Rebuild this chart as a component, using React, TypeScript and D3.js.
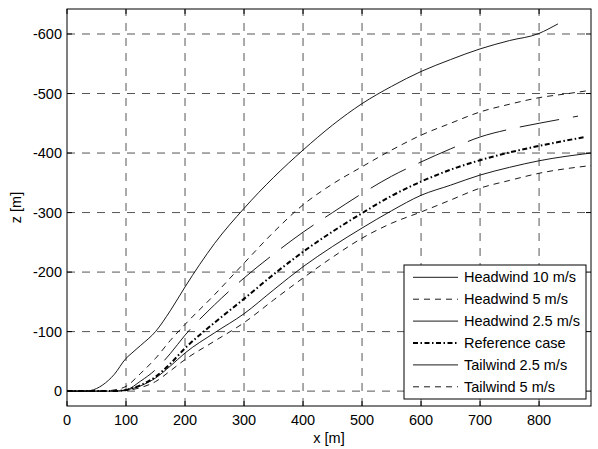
import React from 'react';
import * as d3 from 'd3';

const W = 598;
const H = 449;

const xTicks = [0, 100, 200, 300, 400, 500, 600, 700, 800];
const zTicks = [0, -100, -200, -300, -400, -500, -600];

const hw10X = [0, 30, 40, 60, 80, 100, 110, 125, 150, 175, 200, 225, 250, 300, 350, 400, 450, 500, 550, 600, 650, 700, 750, 800, 815, 832];
const hw10Z = [0, 0, -1, -10, -28, -55, -64, -77, -100, -135, -175, -213, -248, -307, -359, -405, -447, -483, -512, -537, -557, -575, -589, -601, -608, -617];

const hw5X = [0, 60, 80, 100, 125, 150, 175, 200, 250, 300, 350, 400, 450, 500, 550, 600, 650, 700, 750, 800, 850, 884];
const hw5Z = [0, 0, -2, -8, -30, -55, -85, -112, -162, -215, -267, -313, -348, -377, -405, -430, -450, -469, -482, -493, -500, -505];

const hw25X = [0, 80, 100, 125, 150, 175, 200, 250, 300, 350, 400, 450, 500, 550, 600, 650, 700, 750, 800, 866];
const hw25Z = [0, 0, -2, -17, -36, -63, -94, -145, -190, -230, -267, -300, -332, -361, -385, -407, -427, -440, -450, -462];

const refX = [0, 80, 100, 125, 150, 175, 200, 250, 300, 350, 400, 450, 500, 550, 600, 650, 700, 750, 800, 878];
const refZ = [0, 0, -2, -10, -24, -46, -72, -115, -155, -196, -234, -268, -299, -328, -352, -372, -388, -401, -412, -427];

const tw25X = [0, 80, 100, 125, 150, 175, 200, 250, 300, 350, 400, 450, 500, 550, 600, 650, 700, 750, 800, 888];
const tw25Z = [0, 0, -2, -9, -22, -42, -64, -98, -130, -170, -209, -243, -274, -303, -329, -346, -363, -376, -387, -400];

const tw5X = [0, 80, 100, 125, 150, 175, 200, 250, 300, 350, 400, 450, 500, 550, 600, 650, 700, 750, 800, 888];
const tw5Z = [0, 0, -1, -6, -16, -34, -53, -84, -115, -153, -190, -225, -257, -282, -301, -321, -341, -354, -366, -379];

const seriesNames = ['Headwind 10 m/s', 'Headwind 5 m/s', 'Headwind 2.5 m/s', 'Reference case', 'Tailwind 2.5 m/s', 'Tailwind 5 m/s'];

const FONT = '"Liberation Sans", Arial, Helvetica, sans-serif';

export default function App() {
  const left = 67, right = 591, top = 9, bottom = 406;
  const x = d3.scaleLinear().domain([0, 888]).range([left, right]);
  const y = d3.scaleLinear().domain([25, -642]).range([bottom, top]);

  const series = [
    { name: seriesNames[0], xs: hw10X, zs: hw10Z, dash: '', legendDash: '', width: 0.9 },
    { name: seriesNames[1], xs: hw5X, zs: hw5Z, dash: '6 5', legendDash: '6 5', width: 0.9 },
    { name: seriesNames[2], xs: hw25X, zs: hw25Z, dash: '40 14', legendDash: '', width: 0.9 },
    { name: seriesNames[3], xs: refX, zs: refZ, dash: '5 2.5 1.5 2.5', legendDash: '5 2.5 1.5 2.5', width: 2 },
    { name: seriesNames[4], xs: tw25X, zs: tw25Z, dash: '', legendDash: '', width: 0.9 },
    { name: seriesNames[5], xs: tw5X, zs: tw5Z, dash: '6 5', legendDash: '6 5', width: 0.9 },
  ];

  const line = d3
    .line<[number, number]>()
    .x((d) => x(d[0]))
    .y((d) => y(d[1]))
    .curve(d3.curveMonotoneX);

  const gridColor = '#555';
  const tickLen = 5;

  const legLeft = 404, legTop = 265, legRight = 586, legBottom = 399;
  const rowH = 21.9;

  return (
    <svg width={W} height={H} style={{ position: 'absolute', left: 0, top: 0, background: '#fff' }} fontFamily={FONT}>
      <rect x={0} y={0} width={W} height={H} fill="#fff" />
      <defs>
        <clipPath id="plotClip">
          <rect x={left} y={top} width={right - left} height={bottom - top} />
        </clipPath>
      </defs>
      {xTicks.slice(1).map((t) => (
        <line key={'gx' + t} x1={x(t)} x2={x(t)} y1={bottom} y2={top} stroke={gridColor} strokeWidth={1} strokeDasharray="8 7" />
      ))}
      {zTicks.map((t) => (
        <line key={'gy' + t} x1={left} x2={right} y1={y(t)} y2={y(t)} stroke={gridColor} strokeWidth={1} strokeDasharray="8 7" />
      ))}
      <g clipPath="url(#plotClip)">
        {series.map((s) => (
          <path
            key={s.name}
            d={line(s.xs.map((v, i) => [v, s.zs[i]] as [number, number])) || ''}
            fill="none"
            stroke="#000"
            strokeWidth={s.width}
            strokeDasharray={s.dash || undefined}
          />
        ))}
      </g>
      {xTicks.map((t) => (
        <g key={'tx' + t}>
          <line x1={x(t)} x2={x(t)} y1={bottom} y2={bottom - tickLen} stroke="#000" />
          <line x1={x(t)} x2={x(t)} y1={top} y2={top + tickLen} stroke="#000" />
          <text x={x(t)} y={425} textAnchor="middle" fontSize={14.5} fill="#000">
            {t}
          </text>
        </g>
      ))}
      {zTicks.map((t) => (
        <g key={'ty' + t}>
          <line x1={left} x2={left + tickLen} y1={y(t)} y2={y(t)} stroke="#000" />
          <line x1={right} x2={right - tickLen} y1={y(t)} y2={y(t)} stroke="#000" />
          <text x={62} y={y(t) + 5} textAnchor="end" fontSize={14.5} fill="#000">
            {t}
          </text>
        </g>
      ))}
      <rect x={left} y={top} width={right - left} height={bottom - top} fill="none" stroke="#000" strokeWidth={1} />
      <text x={(left + right) / 2} y={443} textAnchor="middle" fontSize={14.5} fill="#000">
        x [m]
      </text>
      <text transform={`translate(21, ${(top + bottom) / 2}) rotate(-90)`} textAnchor="middle" fontSize={14.5} fill="#000">
        z [m]
      </text>
      <rect x={legLeft} y={legTop} width={legRight - legLeft} height={legBottom - legTop} fill="#fff" stroke="#000" strokeWidth={1} />
      {series.map((s, i) => {
        const cy = legTop + 12.3 + i * rowH;
        return (
          <g key={'lg' + s.name}>
            <line x1={413} x2={458} y1={cy} y2={cy} stroke="#000" strokeWidth={s.width} strokeDasharray={s.legendDash || undefined} />
            <text x={464} y={cy + 5} fontSize={14.5} fill="#000">
              {s.name}
            </text>
          </g>
        );
      })}
    </svg>
  );
}
